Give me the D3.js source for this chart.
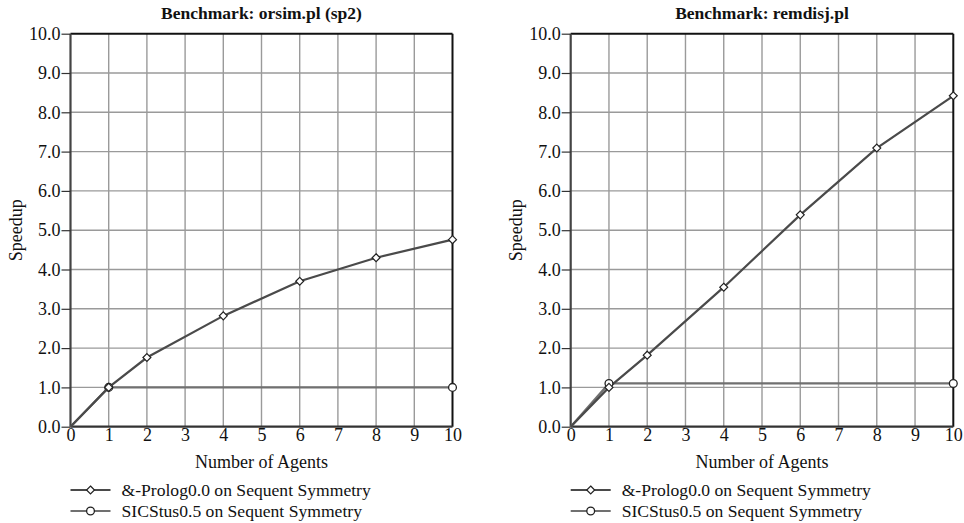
<!DOCTYPE html>
<html><head><meta charset="utf-8">
<script src="https://cdn.jsdelivr.net/npm/d3@7"></script>
<style>body{margin:0;background:#fff}svg{display:block}</style>
</head><body>
<svg id="c" width="964" height="523" font-family="Liberation Serif"></svg>
<script>
const titles = ["Benchmark: orsim.pl (sp2)", "Benchmark: remdisj.pl"];
const xTicks = [0,1,2,3,4,5,6,7,8,9,10];
const yTicks = [0,1,2,3,4,5,6,7,8,9,10];
const seriesNames = ["&-Prolog0.0 on Sequent Symmetry", "SICStus0.5 on Sequent Symmetry"];
const prologX = [0,1,2,4,6,8,10];
const prologLeft = [0,1.0,1.76,2.82,3.70,4.30,4.76];
const prologRight = [0,1.0,1.82,3.55,5.39,7.09,8.42];
const sicsX = [0,1,10];
const sicsLeft = [0,1.0,1.0];
const sicsRight = [0,1.1,1.1];

const FONT = "Liberation Serif";
const svg = d3.select("#c");
const panels = [
  {title: titles[0], x0: 70.5, x1: 452.5, pro: prologLeft, sic: sicsLeft},
  {title: titles[1], x0: 570.7, x1: 953.3, pro: prologRight, sic: sicsRight}
];
const yTop = 33.7, yBot = 426.7;

function txt(g) {
  return g.append("text").attr("font-family", FONT).attr("fill", "#111");
}

panels.forEach(p => {
  const g = svg.append("g");
  const x = d3.scaleLinear().domain([0,10]).range([p.x0, p.x1]);
  const y = d3.scaleLinear().domain([0,10]).range([yBot, yTop]);
  // grid
  g.selectAll(".vg").data(xTicks.slice(1,-1)).join("line")
    .attr("x1", d=>x(d)).attr("x2", d=>x(d)).attr("y1", yTop).attr("y2", yBot)
    .attr("stroke", "#9a9a9a").attr("stroke-width", 1.4);
  g.selectAll(".hg").data(yTicks.slice(1,-1)).join("line")
    .attr("y1", d=>y(d)).attr("y2", d=>y(d)).attr("x1", p.x0).attr("x2", p.x1)
    .attr("stroke", "#9a9a9a").attr("stroke-width", 1.4);
  // frame top/right
  g.append("line").attr("x1", p.x0).attr("x2", p.x1).attr("y1", yTop).attr("y2", yTop).attr("stroke", "#111").attr("stroke-width", 2);
  g.append("line").attr("x1", p.x1).attr("x2", p.x1).attr("y1", yTop).attr("y2", yBot).attr("stroke", "#111").attr("stroke-width", 2);
  // axes
  const ax = d3.axisLeft(y).tickValues(yTicks).tickFormat(d3.format(".1f")).tickSize(9).tickPadding(1);
  const ga = g.append("g").attr("transform", `translate(${p.x0},0)`).call(ax)
    .attr("font-family", FONT).attr("font-size", 18);
  ga.select(".domain").attr("stroke", "#444").attr("stroke-width", 2.2).attr("d", `M0,${yTop}V${yBot}`);
  ga.selectAll(".tick line").attr("stroke", "#333").attr("stroke-width", 1.2);
  ga.selectAll(".tick text").attr("font-size", 18).attr("font-family", FONT).attr("fill", "#111").attr("dy", "0.32em");
  const bx = d3.axisBottom(x).tickValues(xTicks).tickFormat(d3.format("d")).tickSize(0).tickPadding(2);
  const gb = g.append("g").attr("transform", `translate(0,${yBot})`).call(bx)
    .attr("font-family", FONT).attr("font-size", 18);
  gb.select(".domain").attr("stroke", "#333").attr("stroke-width", 2.2).attr("d", `M${p.x0},0H${p.x1}`);
  gb.selectAll(".tick text").attr("font-size", 18).attr("font-family", FONT).attr("fill", "#111").attr("dy", "0.71em");
  // titles
  txt(g).attr("x", (p.x0+p.x1)/2).attr("y", 19).attr("text-anchor", "middle")
    .attr("font-weight", "bold").attr("font-size", 17.5).text(p.title);
  txt(g).attr("transform", `translate(${p.x0-48.5},${(yTop+yBot)/2}) rotate(-90)`)
    .attr("text-anchor", "middle").attr("font-size", 18).text("Speedup");
  txt(g).attr("x", (p.x0+p.x1)/2).attr("y", 468).attr("text-anchor", "middle")
    .attr("font-size", 18).text("Number of Agents");
  // series
  const line = d3.line().x(d=>x(d[0])).y(d=>y(d[1]));
  const sicPts = sicsX.map((v,i)=>[v,p.sic[i]]);
  const proPts = prologX.map((v,i)=>[v,p.pro[i]]);
  g.append("path").attr("d", line(sicPts)).attr("fill","none").attr("stroke","#707070").attr("stroke-width",2.2);
  g.append("path").attr("d", line(proPts)).attr("fill","none").attr("stroke","#4a4a4a").attr("stroke-width",2.2);
  g.selectAll(".cm").data(sicPts.slice(1)).join("circle")
    .attr("cx", d=>x(d[0])).attr("cy", d=>y(d[1])).attr("r", 3.9)
    .attr("fill","#fff").attr("stroke","#222").attr("stroke-width",1.3);
  const dia = d3.symbol().type(d3.symbolDiamond2).size(40);
  g.selectAll(".dm").data(proPts.slice(1)).join("path")
    .attr("d", dia).attr("transform", d=>`translate(${x(d[0])},${y(d[1])})`)
    .attr("fill","#fff").attr("stroke","#222").attr("stroke-width",1.2);
  // legend
  const lx = p.x0, ly = [490, 511];
  [0,1].forEach(i => {
    g.append("line").attr("x1", lx).attr("x2", lx+40).attr("y1", ly[i]).attr("y2", ly[i])
      .attr("stroke", i===0?"#4a4a4a":"#707070").attr("stroke-width", 2.2);
    if (i===0) g.append("path").attr("d", dia).attr("transform", `translate(${lx+20},${ly[i]})`)
      .attr("fill","#fff").attr("stroke","#222").attr("stroke-width",1.2);
    else g.append("circle").attr("cx", lx+20).attr("cy", ly[i]).attr("r", 3.9)
      .attr("fill","#fff").attr("stroke","#222").attr("stroke-width",1.3);
    txt(g).attr("x", lx+51).attr("y", ly[i]).attr("dy","0.33em").attr("font-size", 17.6).text(seriesNames[i]);
  });
});
</script>
</body></html>
